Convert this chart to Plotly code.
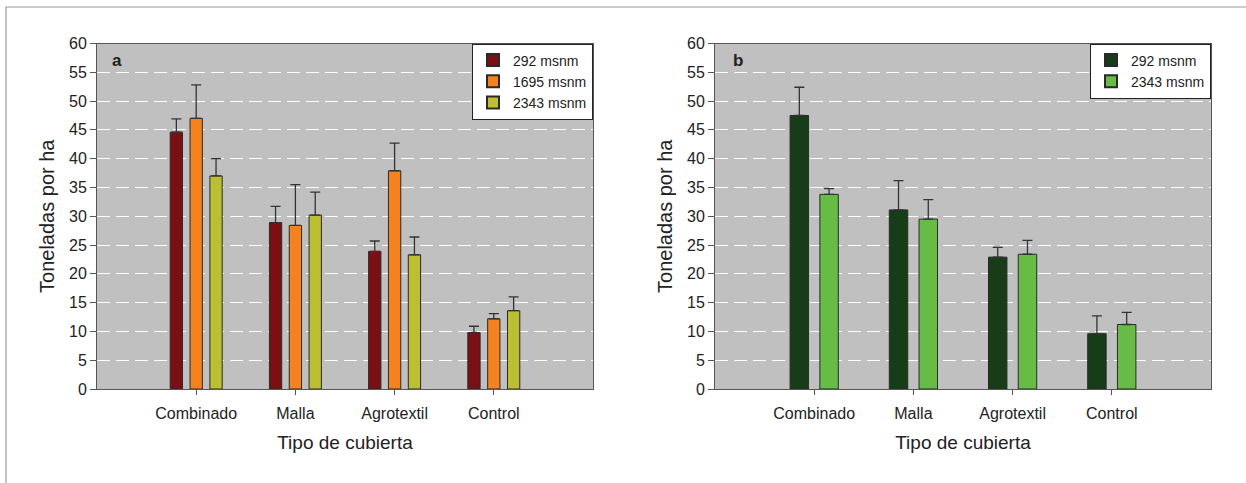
import plotly.graph_objects as go

categories = ["Combinado", "Malla", "Agrotextil", "Control"]

# Panel a
a_292 = [44.6, 28.9, 23.9, 9.8]
a_292_err = [2.3, 2.8, 1.8, 1.1]
a_1695 = [47.0, 28.4, 37.9, 12.2]
a_1695_err = [5.8, 7.1, 4.8, 0.9]
a_2343 = [37.0, 30.2, 23.3, 13.6]
a_2343_err = [3.0, 4.0, 3.1, 2.4]

# Panel b
b_292 = [47.5, 31.1, 22.9, 9.6]
b_292_err = [4.9, 5.1, 1.7, 3.1]
b_2343 = [33.8, 29.5, 23.4, 11.2]
b_2343_err = [1.0, 3.4, 2.4, 2.1]

y_ticks = [0, 5, 10, 15, 20, 25, 30, 35, 40, 45, 50, 55, 60]

W, H = 1246, 483
FONT = "Liberation Sans, Arial, sans-serif"
TXT = "#222222"

fig = go.Figure()

def add_bar(x, y, err, name, color, xa, ya, legend):
    fig.add_trace(go.Bar(
        x=x, y=y, name=name, marker=dict(color=color, line=dict(color="#2a2a2a", width=1)),
        error_y=dict(type="data", array=err, arrayminus=[0] * len(err), symmetric=False,
                     color="#333333", thickness=1.3, width=5),
        xaxis=xa, yaxis=ya, legend=legend,
    ))

add_bar(categories, a_292, a_292_err, "292 msnm", "#7A1014", "x", "y", "legend")
add_bar(categories, a_1695, a_1695_err, "1695 msnm", "#F4821E", "x", "y", "legend")
add_bar(categories, a_2343, a_2343_err, "2343 msnm", "#BDBF32", "x", "y", "legend")
add_bar(categories, b_292, b_292_err, "292 msnm", "#173D18", "x2", "y2", "legend2")
add_bar(categories, b_2343, b_2343_err, "2343 msnm", "#66BC45", "x2", "y2", "legend2")

ydom = [(H - 389) / H, (H - 43.5) / H]
xa_dom = [97 / W, 593 / W]
xb_dom = [715 / W, 1211 / W]

xaxis_common = dict(
    type="category", range=[-1, 4], showline=True, mirror=True, linecolor="#555555", linewidth=1,
    ticks="outside", ticklen=5, tickcolor="#555555", showgrid=False,
    tickfont=dict(size=16, color=TXT, family=FONT), ticklabelstandoff=5,
    title=dict(text="Tipo de cubierta", font=dict(size=19, color=TXT, family=FONT), standoff=14),
    fixedrange=True,
)
yaxis_common = dict(
    range=[0, 60], tickvals=y_ticks, showline=True, mirror=True, linecolor="#555555", linewidth=1,
    ticks="outside", ticklen=6, tickcolor="#555555",
    showgrid=True, gridcolor="white", gridwidth=1, griddash="13px,6px",
    tickfont=dict(size=16, color=TXT, family=FONT),
    title=dict(text="Toneladas por ha", font=dict(size=20, color=TXT, family=FONT), standoff=9),
    zeroline=False,
)

legend_common = dict(
    bgcolor="white", bordercolor="#222222", borderwidth=1,
    font=dict(size=14, color=TXT, family=FONT), yanchor="top", xanchor="right",
    tracegroupgap=0, itemsizing="constant",
)

fig.update_layout(
    width=W, height=H, margin=dict(l=0, r=0, t=0, b=0, autoexpand=False),
    paper_bgcolor="white", plot_bgcolor="#C0C0C0",
    barmode="group", bargap=0.4, bargroupgap=0.38,
    font=dict(family=FONT, color=TXT),
    xaxis=dict(domain=xa_dom, anchor="y", **xaxis_common),
    yaxis=dict(domain=ydom, anchor="x", **yaxis_common),
    xaxis2=dict(domain=xb_dom, anchor="y2", **xaxis_common),
    yaxis2=dict(domain=ydom, anchor="x2", **yaxis_common),
    legend=dict(x=xa_dom[1], y=ydom[1], **legend_common),
    legend2=dict(x=xb_dom[1], y=ydom[1], **legend_common),
    showlegend=True,
    annotations=[
        dict(text="<b>a</b>", xref="paper", yref="paper", x=(110) / W, y=(H - 60) / H,
             xanchor="left", yanchor="middle", showarrow=False, font=dict(size=17, color=TXT, family=FONT)),
        dict(text="<b>b</b>", xref="paper", yref="paper", x=(731) / W, y=(H - 60) / H,
             xanchor="left", yanchor="middle", showarrow=False, font=dict(size=17, color=TXT, family=FONT)),
    ],
    shapes=[
        dict(type="rect", xref="paper", yref="paper", x0=6 / W, y0=-0.05, x1=1.05, y1=(H - 7) / H,
             line=dict(color="#9A9A9A", width=1.2), fillcolor="rgba(0,0,0,0)", layer="below"),
    ],
)

fig.write_html("out.html")
